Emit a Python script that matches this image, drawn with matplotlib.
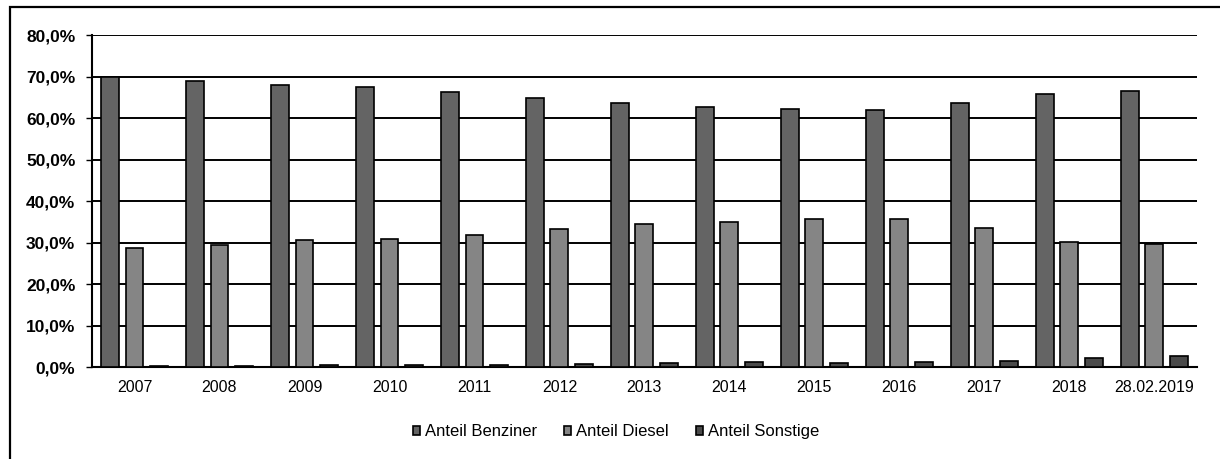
import matplotlib
matplotlib.use("Agg")
import matplotlib.pyplot as plt
from matplotlib.patches import Rectangle
from matplotlib.ticker import FuncFormatter
import numpy as np

plt.rcParams["font.family"] = ["Liberation Sans", "DejaVu Sans"]

categories = ["2007", "2008", "2009", "2010", "2011", "2012", "2013",
              "2014", "2015", "2016", "2017", "2018", "28.02.2019"]
benziner = [70.0, 69.0, 68.0, 67.5, 66.3, 64.9, 63.5, 62.6, 62.1, 61.9, 63.7, 65.8, 66.5]
diesel = [28.6, 29.4, 30.6, 30.8, 31.8, 33.3, 34.4, 35.0, 35.7, 35.7, 33.4, 30.2, 29.6]
sonstige = [0.2, 0.3, 0.4, 0.4, 0.5, 0.7, 1.0, 1.2, 1.0, 1.1, 1.5, 2.2, 2.6]

series = [
    ("Anteil Benziner", benziner, "#646464"),
    ("Anteil Diesel", diesel, "#858585"),
    ("Anteil Sonstige", sonstige, "#4a4a4a"),
]

fig = plt.figure(figsize=(12.2, 4.59), dpi=100)
ax = fig.add_axes([0.0754, 0.2004, 0.9056, 0.7233])

x = np.arange(len(categories))
width = 0.21
step = 0.29
for i, (label, vals, color) in enumerate(series):
    ax.bar(x + (i - 1) * step, np.array(vals) / 100, width, color=color,
           edgecolor="black", linewidth=1.2, label=label, zorder=3)

ax.set_xlim(-0.5, len(categories) - 0.5)
ax.set_ylim(0, 0.8)
ax.set_yticks(np.arange(0, 0.81, 0.1))
ax.yaxis.set_major_formatter(FuncFormatter(lambda v, _: f"{v * 100:.1f}%".replace(".", ",")))
ax.set_xticks(x)
ax.set_xticklabels(categories)
ax.tick_params(axis="y", labelsize=12.5, length=4, width=1, pad=8)
ax.tick_params(axis="x", labelsize=11.5, length=0, pad=9)
for lbl in ax.get_yticklabels():
    lbl.set_fontweight("bold")

ax.grid(axis="y", color="black", linewidth=1.4, zorder=0)
for side in ["top", "right"]:
    ax.spines[side].set_visible(False)
ax.spines["left"].set_linewidth(1.5)
ax.spines["bottom"].set_linewidth(1.5)

fig.legend(loc="center", bbox_to_anchor=(0.505, 0.059), ncol=3, frameon=False,
           fontsize=12, handlelength=0.45, handleheight=0.45, columnspacing=1.6,
           handletextpad=0.3)

# outer chart frame
fig.patches.append(Rectangle((10 / 1220, -0.05), 1.1, 1 - 7 / 459 + 0.05,
                             transform=fig.transFigure, fill=False,
                             edgecolor="black", linewidth=1.6))

fig.savefig("out.png", dpi=100)
